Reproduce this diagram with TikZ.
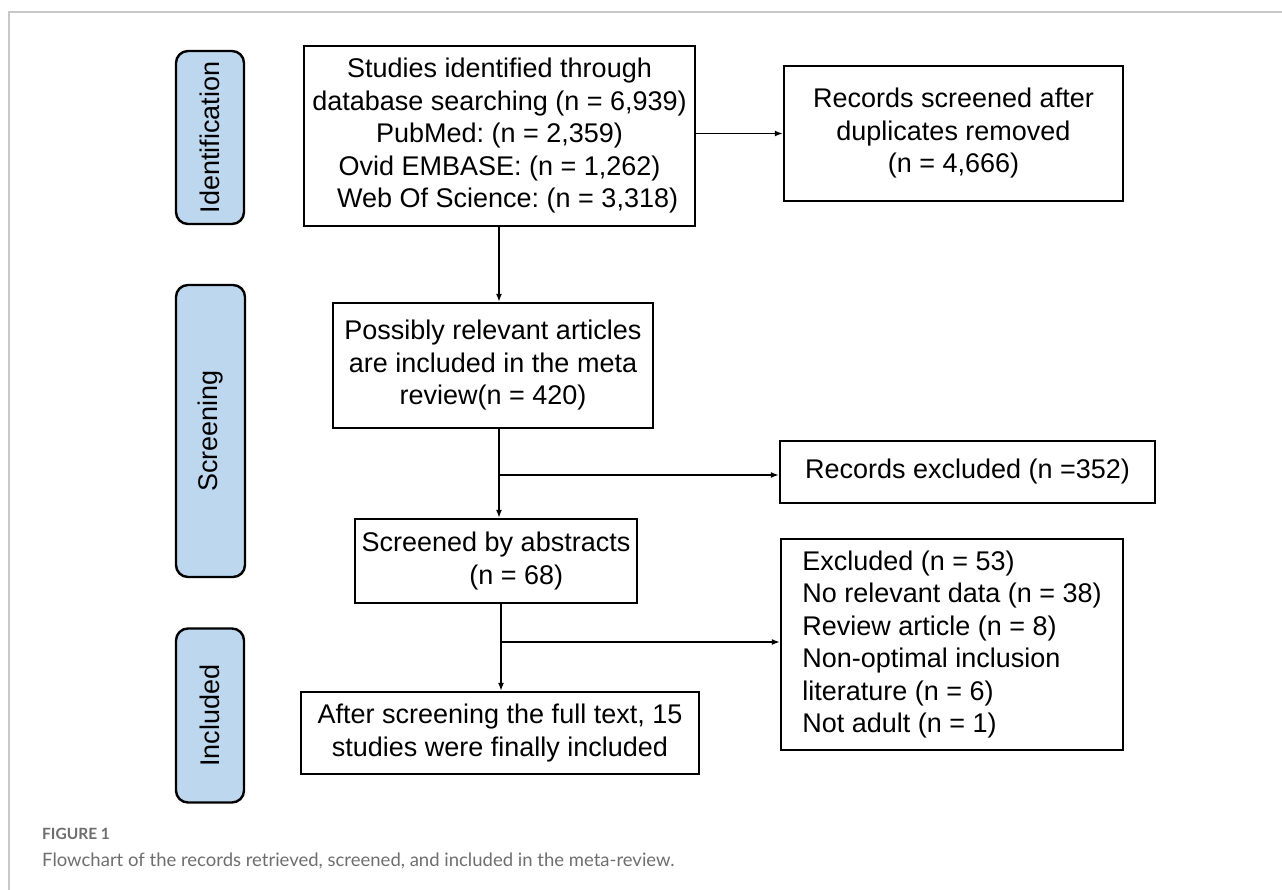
\documentclass[tikz,border=0pt]{standalone}
\usepackage{fontspec}
\setmainfont{Liberation Sans}
\newfontfamily\capfont{Lato}
\usetikzlibrary{arrows.meta}
\frenchspacing
\definecolor{phaseblue}{RGB}{189,215,238}
\definecolor{framegray}{RGB}{200,200,200}
\definecolor{capgray}{RGB}{110,110,110}
\tikzset{
	box/.style={draw, line width=2.4pt, align=center, inner sep=0pt,
		font=\fontsize{27}{32.5}\selectfont},
	phase/.style={box, fill=phaseblue, rounded corners=12pt, rotate=90},
	arr/.style={line width=1.5pt, -{Latex[length=8pt,width=6pt]}}
}
\begin{document}
\begin{tikzpicture}[x=1pt, y=-1pt]
		\useasboundingbox (0,0) rectangle (1282,890);
		\draw[framegray, line width=1.2pt] (1282,12) -- (9,12) -- (9,890);
		\node[phase, minimum width=173, minimum height=68] (ident) at (210,137.5) {Identification};
		\node[phase, minimum width=292, minimum height=69] (screen) at (210.5,431) {Screening};
		\node[phase, minimum width=174, minimum height=68] (incl) at (210,715.5) {Included};
		\node[box, minimum width=391, minimum height=180] (search) at (499.5,136)
			{Studies identified through\\database searching (n = 6,939)\\PubMed: (n = 2,359)\\Ovid EMBASE: (n = 1,262)\\\hspace*{0.6em}Web Of Science: (n = 3,318)};
		\node[box, minimum width=339, minimum height=135] (dedup) at (953.5,133.5)
			{Records screened after\\duplicates removed\\(n = 4,666)};
		\node[box, minimum width=320, minimum height=125] (relevant) at (493,365.5)
			{Possibly relevant articles\\are included in the meta\\review(n = 420)};
		\node[box, minimum width=375, minimum height=62] (recexcl) at (967.5,472)
			{Records excluded (n =352)};
		\node[box, minimum width=282, minimum height=84] (abstracts) at (496,561)
			{Screened by abstracts\\\hspace*{1.5em}(n = 68)};
		\node[box, align=left, minimum width=342, minimum height=211] (fullexcl) at (952,644.5)
			{Excluded (n = 53)\\No relevant data (n = 38)\\Review article (n = 8)\\Non-optimal inclusion\\literature (n = 6)\\Not adult (n = 1)};
		\node[box, minimum width=398, minimum height=82] (final) at (500,733)
			{After screening the full text, 15\\studies were finally included};
		\coordinate (j1) at (499,475);
		\coordinate (j2) at (501,642);
		\draw[arr] (search.east |- dedup.west) -- (dedup.west);
		\draw[arr] (search.south -| j1) -- (relevant.north -| j1);
		\draw[arr] (relevant.south -| j1) -- (abstracts.north -| j1);
		\draw[arr] (j1) -- (j1 -| recexcl.west);
		\draw[arr] (abstracts.south -| j2) -- (final.north -| j2);
		\draw[arr] (j2) -- (j2 -| fullexcl.west);
		\node[anchor=base west, inner sep=0pt, text=capgray, font=\capfont\bfseries\fontsize{15.5}{18}\selectfont] (fig) at (42,839) {FIGURE 1};
		\node[anchor=base west, inner sep=0pt, text=capgray, font=\capfont\fontsize{18.5}{21}\selectfont] (caption) at (42,866)
			{Flowchart of the records retrieved, screened, and included in the meta-review.};
		\end{tikzpicture}
\end{document}
